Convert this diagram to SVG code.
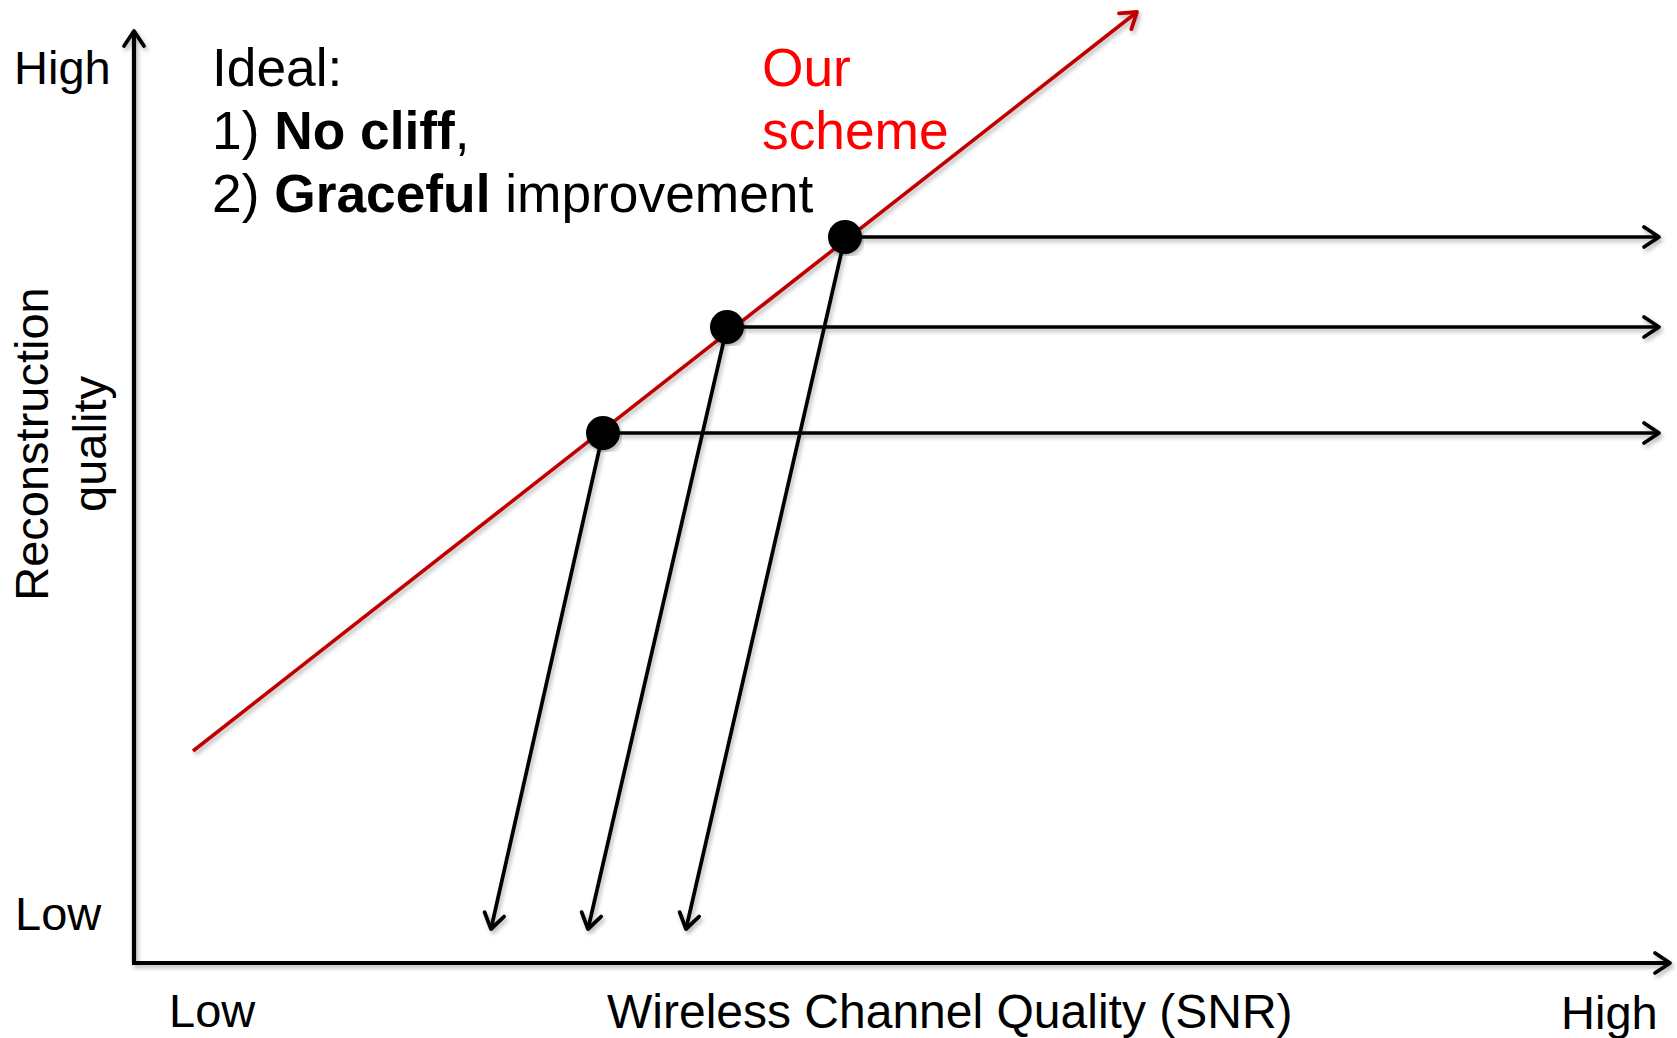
<svg xmlns="http://www.w3.org/2000/svg" width="1677" height="1038" viewBox="0 0 1677 1038">
<style>
  .lbl { font-family: "Liberation Sans", Arial, sans-serif; font-size: 47px; fill: #000; }
  .ttl { font-family: "Liberation Sans", Arial, sans-serif; font-size: 48px; fill: #000; }
  .big { font-family: "Liberation Sans", Arial, sans-serif; font-size: 53.3px; fill: #000; }
  .red { fill: #FF0000; }
  .b { font-weight: bold; }
  .ax { stroke: #000; stroke-width: 4.2; fill: none; }
  .ln { stroke: #000; stroke-width: 3.7; fill: none; }
  .rl { stroke: #C00000; stroke-width: 3.6; fill: none; }
</style>
<defs>
  <filter id="sh" x="-5%" y="-5%" width="110%" height="110%">
    <feDropShadow dx="2" dy="3" stdDeviation="2" flood-color="#000" flood-opacity="0.28"/>
  </filter>
  <marker id="ab" markerUnits="userSpaceOnUse" viewBox="-20 -14 24 28" refX="0" refY="0" markerWidth="24" markerHeight="28" orient="auto">
    <path d="M -15 -10 L 0 0 L -15 10" fill="none" stroke="#000" stroke-width="3.8" stroke-linecap="round" stroke-linejoin="round"/>
  </marker>
  <marker id="ar" markerUnits="userSpaceOnUse" viewBox="-20 -14 24 28" refX="0" refY="0" markerWidth="24" markerHeight="28" orient="auto">
    <path d="M -15 -10 L 0 0 L -15 10" fill="none" stroke="#C00000" stroke-width="3.8" stroke-linecap="round" stroke-linejoin="round"/>
  </marker>
</defs>
<rect width="1677" height="1038" fill="#fff"/>

<g id="connectors" filter="url(#sh)">
  <line id="y-axis" class="ax" x1="134" y1="963" x2="134" y2="31" marker-end="url(#ab)"/>
  <line id="x-axis" class="ax" x1="132" y1="963" x2="1670" y2="963" marker-end="url(#ab)"/>
  <line id="scheme-line" class="rl" x1="193" y1="751" x2="1137" y2="12" marker-end="url(#ar)"/>
  <line class="ln" x1="845" y1="237" x2="1659" y2="237" marker-end="url(#ab)"/>
  <line class="ln" x1="727" y1="327" x2="1659" y2="327" marker-end="url(#ab)"/>
  <line class="ln" x1="603" y1="433" x2="1659" y2="433" marker-end="url(#ab)"/>
  <line class="ln" x1="603" y1="433" x2="491" y2="929" marker-end="url(#ab)"/>
  <line class="ln" x1="727" y1="327" x2="588" y2="929" marker-end="url(#ab)"/>
  <line class="ln" x1="845" y1="237" x2="686" y2="929" marker-end="url(#ab)"/>
</g>

<g id="dot1" filter="url(#sh)"><circle cx="603" cy="433" r="17" fill="#000"/></g>
<g id="dot2" filter="url(#sh)"><circle cx="727" cy="327" r="17" fill="#000"/></g>
<g id="dot3" filter="url(#sh)"><circle cx="845" cy="237" r="17" fill="#000"/></g>

<g id="y-labels">
  <text class="lbl" x="14" y="84">High</text>
  <text class="lbl" x="15" y="930">Low</text>
  <text class="lbl" text-anchor="middle" transform="translate(48,444) rotate(-90)">Reconstruction</text>
  <text class="lbl" text-anchor="middle" transform="translate(106,444) rotate(-90)">quality</text>
</g>

<g id="x-labels">
  <text class="lbl" x="169" y="1027">Low</text>
  <text class="ttl" x="607" y="1028">Wireless Channel Quality (SNR)</text>
  <text class="lbl" x="1561" y="1029">High</text>
</g>

<g id="ideal-note">
  <text class="big" x="212" y="86">Ideal:</text>
  <text class="big" x="212" y="149">1) <tspan class="b">No cliff</tspan>,</text>
  <text class="big" x="212" y="212">2) <tspan class="b">Graceful</tspan> improvement</text>
</g>

<g id="scheme-label">
  <text class="big red" x="762" y="86">Our</text>
  <text class="big red" x="762" y="149">scheme</text>
</g>
</svg>
